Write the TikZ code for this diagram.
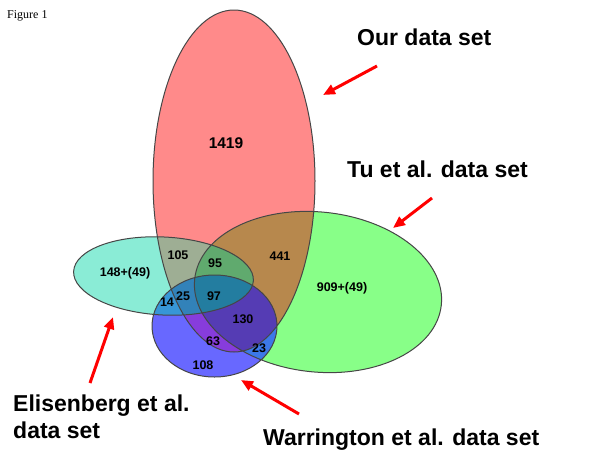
\documentclass[tikz,border=0pt]{standalone}
\usepackage{fontspec}
\setmainfont{Liberation Serif}
\setsansfont{Liberation Sans}
\usetikzlibrary{arrows.meta}

% set colours
\definecolor{ourred}{RGB}{255,138,138}
\definecolor{tugreen}{RGB}{136,255,136}
\definecolor{elicyan}{RGB}{138,236,214}
\definecolor{warblue}{RGB}{104,104,255}
% overlap colours
\definecolor{rg}{RGB}{183,136,77}
\definecolor{rc}{RGB}{158,174,148}
\definecolor{rb}{RGB}{135,60,220}
\definecolor{gb}{RGB}{60,120,232}
\definecolor{cb}{RGB}{55,150,215}
\definecolor{rgc}{RGB}{96,170,110}
\definecolor{rcb}{RGB}{50,130,185}
\definecolor{rgb}{RGB}{85,60,180}
\definecolor{rgcb}{RGB}{35,125,160}
\definecolor{rim}{RGB}{70,70,70}

% the four sets
\newcommand{\ourset}{(234,181) ellipse [x radius=81, y radius=171]}
\newcommand{\tuset}{(318,292) ellipse [x radius=124, y radius=80, rotate=-6]}
\newcommand{\eliset}{(163.5,276) ellipse [x radius=90, y radius=39, rotate=-3]}
\newcommand{\warset}{(214.5,326) ellipse [x radius=62.5, y radius=51]}

\begin{document}
\begin{tikzpicture}[x=1pt, y=-1pt, >={Triangle[length=12pt,width=10pt]},
    setlabel/.style={font=\sffamily\bfseries\fontsize{23}{27}\selectfont, inner sep=0},
    count/.style={font=\sffamily\bfseries\fontsize{12.5}{14}\selectfont, inner sep=0},
    pointer/.style={->, draw=red, line width=3pt}]
    \useasboundingbox (0,0) rectangle (600,464);

    % Single sets
    \fill[ourred] \ourset;
    \fill[tugreen] \tuset;
    \fill[elicyan] \eliset;
    \fill[warblue] \warset;

    % Two sets
    \begin{scope} \clip \ourset; \fill[rg] \tuset; \end{scope}
    \begin{scope} \clip \ourset; \fill[rc] \eliset; \end{scope}
    \begin{scope} \clip \ourset; \fill[rb] \warset; \end{scope}
    \begin{scope} \clip \tuset; \fill[gb] \warset; \end{scope}
    \begin{scope} \clip \eliset; \fill[cb] \warset; \end{scope}

    % Three and four sets
    \begin{scope} \clip \ourset; \clip \tuset; \fill[rgc] \eliset; \end{scope}
    \begin{scope} \clip \ourset; \clip \eliset; \fill[rcb] \warset; \end{scope}
    \begin{scope} \clip \ourset; \clip \tuset; \fill[rgb] \warset; \end{scope}
    \begin{scope} \clip \ourset; \clip \tuset; \clip \eliset; \fill[rgcb] \warset; \end{scope}

    % Outlines
    \draw[rim, line width=1pt] \ourset \tuset \eliset \warset;

    % Counts
    \node[count, font=\sffamily\bfseries\fontsize{15.5}{17}\selectfont] (n1419) at (226,143) {1419};
    \node[count] (n909) at (342,288) {909+(49)};
    \node[count] (n148) at (125,273) {148+(49)};
    \node[count] (n105) at (178,255) {105};
    \node[count] (n95) at (215,263) {95};
    \node[count] (n441) at (280,256) {441};
    \node[count] (n25) at (183,296) {25};
    \node[count] (n97) at (214,296) {97};
    \node[count] (n14) at (167,302) {14};
    \node[count] (n130) at (243,319) {130};
    \node[count] (n63) at (213,341) {63};
    \node[count] (n23) at (259,348) {23};
    \node[count] (n108) at (203,365) {108};

    % Set names
    \node[anchor=base west, inner sep=0, font=\fontsize{12}{14}\selectfont] (fig) at (7,18) {Figure 1};
    \node[setlabel, anchor=base west] (our) at (357,45) {Our data set};
    \node[setlabel, anchor=base west] (tu) at (347,177) {Tu et al. data set};
    \node[setlabel, anchor=north west, align=left] (eli) at (13,395) {Elisenberg et al.\\data set};
    \node[setlabel, anchor=base west] (war) at (263,445) {Warrington et al. data set};

    % Arrows
    \coordinate (ourtail) at (377,66);
    \coordinate (ourhead) at (323,95);
    \coordinate (tutail) at (432,198);
    \coordinate (tuhead) at (393,228);
    \coordinate (elitail) at (90,383);
    \coordinate (elihead) at (113,317);
    \coordinate (wartail) at (299,414);
    \coordinate (warhead) at (241,380);
    \draw[pointer] (ourtail) -- (ourhead);
    \draw[pointer] (tutail) -- (tuhead);
    \draw[pointer] (elitail) -- (elihead);
    \draw[pointer] (wartail) -- (warhead);
\end{tikzpicture}
\end{document}
